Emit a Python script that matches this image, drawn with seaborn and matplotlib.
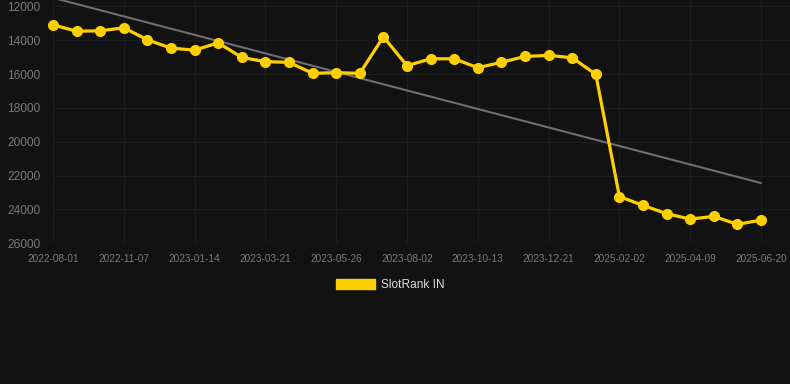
import numpy as np
import pandas as pd
import matplotlib
matplotlib.use("Agg")
import matplotlib.pyplot as plt
from matplotlib.patches import Patch
import seaborn as sns

# rank per snapshot (lower is better, axis is reversed)
rank_values = [13100, 13470, 13450, 13270, 13980, 14470, 14590, 14160, 15020, 15270,
               15310, 15960, 15920, 15960, 13800, 15510, 15100, 15100, 15630, 15310,
               14960, 14900, 15040, 16020, 23240, 23760, 24250, 24570, 24410, 24880,
               24630]
tick_labels = ["2022-08-01", "2022-11-07", "2023-01-14", "2023-03-21", "2023-05-26",
               "2023-08-02", "2023-10-13", "2023-12-21", "2025-02-02", "2025-04-09",
               "2025-06-20"]
trend_values = [11500, 22440]  # start / end of the trend line
series_name = "SlotRank IN"

bg = "#121212"
grid_col = "#1d1d1d"
yellow = "#FFD000"

df = pd.DataFrame({"idx": np.arange(len(rank_values)), "rank": rank_values})
df_trend = pd.DataFrame({"idx": [0, len(rank_values) - 1], "rank": trend_values})

sns.set_style("dark")
plt.rcParams["font.family"] = ["Liberation Sans", "DejaVu Sans"]

fig = plt.figure(figsize=(7.9, 3.84), dpi=100, facecolor=bg)
ax = fig.add_axes([53 / 790, 1 - 243.3 / 384, 1 - 53 / 790, 243.3 / 384])
ax.set_facecolor(bg)

sns.lineplot(data=df_trend, x="idx", y="rank", color="#6e6e6e", linewidth=1.5, ax=ax,
             zorder=2)
sns.lineplot(data=df, x="idx", y="rank", color=yellow, linewidth=2.3, marker="o",
             markersize=8, markeredgewidth=0, ax=ax, zorder=3)
ax.lines[-1].set_clip_on(False)

ax.set_xlim(0, 30 + 29 / 23.6)
ax.set_ylim(26000, 11628)
ax.set_yticks(np.arange(12000, 26001, 2000))
ax.set_yticklabels([str(v) for v in range(12000, 26001, 2000)])
ax.set_xticks(np.arange(0, len(rank_values), 3))
ax.set_xticklabels(tick_labels)

ax.grid(True, color=grid_col, linewidth=0.8)
ax.tick_params(axis="y", colors="#7a7a7a", labelsize=8.6, length=0, pad=9)
ax.tick_params(axis="x", colors="#7a7a7a", labelcolor="#7a7a7a", labelsize=7.2,
               length=4, color="#262626", pad=4)
for s in ax.spines.values():
    s.set_visible(False)
ax.axhline(26000, color="#2a2a2a", linewidth=1, zorder=1)
ax.set_xlabel("")
ax.set_ylabel("")

handle = Patch(facecolor=yellow, edgecolor=yellow)
fig.legend([handle], [series_name], loc="center", bbox_to_anchor=(0.494, 0.258),
           frameon=False, fontsize=8.6, labelcolor="#dddddd", handlelength=3.3,
           handleheight=1.0, handletextpad=0.5)

fig.savefig("out.png", dpi=100, facecolor=bg)
